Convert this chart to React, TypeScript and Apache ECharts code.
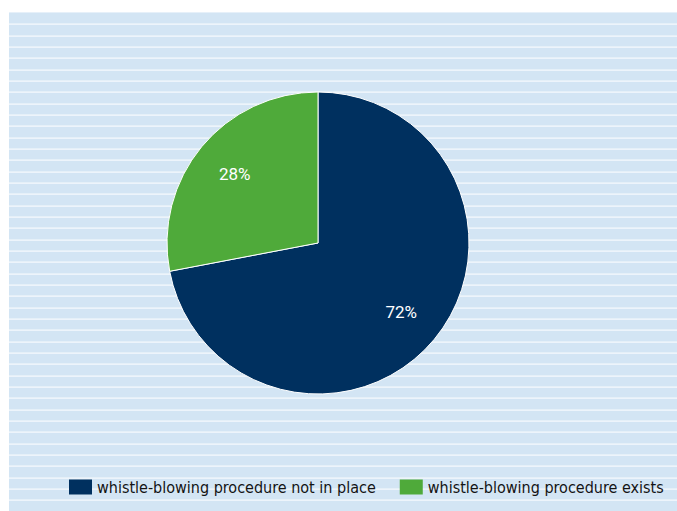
import React, { useEffect, useRef } from "react";
import * as echarts from "echarts";

const categories = ["whistle-blowing procedure not in place", "whistle-blowing procedure exists"];
const values = [72, 28];
const colors = ["#00305f", "#4faa3a"];

export default function App() {
  const ref = useRef<HTMLDivElement>(null);
  useEffect(() => {
    if (!ref.current) return;
    const chart = echarts.init(ref.current, null, { renderer: "svg" });
    const data = categories.map((name, i) => ({ name, value: values[i], itemStyle: { color: colors[i] } }));
    const labelData = categories.map((name, i) => ({ name, value: values[i] }));
    chart.setOption({
      animation: false,
      backgroundColor: "transparent",
      legend: {
        left: 69,
        top: 479,
        width: 640,
        padding: 0,
        itemWidth: 23,
        itemHeight: 15,
        itemGap: 24,
        icon: "rect",
        itemStyle: { borderWidth: 0 },
        data: categories,
        textStyle: {
          fontFamily: "'Liberation Sans Narrow', 'DejaVu Sans Condensed', sans-serif",
          fontSize: 16,
          color: "#141414",
          fontWeight: 500,
        },
      },
      series: [
        {
          type: "pie",
          center: [318, 243],
          radius: [0, 151],
          startAngle: 90,
          clockwise: true,
          label: { show: false },
          labelLine: { show: false },
          itemStyle: { borderColor: "#ffffff", borderWidth: 1 },
          emphasis: { disabled: true },
          data,
        },
        {
          type: "pie",
          center: [318, 243],
          radius: [59, 151],
          startAngle: 90,
          clockwise: true,
          silent: true,
          itemStyle: { color: "rgba(0,0,0,0)", borderWidth: 0 },
          label: {
            show: true,
            position: "inside",
            formatter: "{c}%",
            color: "#ffffff",
            fontSize: 17,
            fontFamily: "Roboto, Arial, sans-serif",
          },
          labelLine: { show: false },
          emphasis: { disabled: true },
          data: labelData,
        },
      ],
    });
    return () => chart.dispose();
  }, []);
  return (
    <div style={{ position: "fixed", left: 0, top: 0, width: 677, height: 511, background: "#ffffff" }}>
      <div
        style={{
          position: "absolute",
          left: 9,
          top: 12,
          right: 0,
          bottom: 0,
          background:
            "repeating-linear-gradient(to bottom, #d3e5f4 0px, #d3e5f4 10.4px, #ffffff 10.4px, #ffffff 11.333px)",
          backgroundPosition: "0 0.6px",
          borderTop: "1px solid #e6f0f9",
        }}
      />
      <div ref={ref} style={{ position: "absolute", left: 0, top: 0, width: 677, height: 511 }} />
    </div>
  );
}
